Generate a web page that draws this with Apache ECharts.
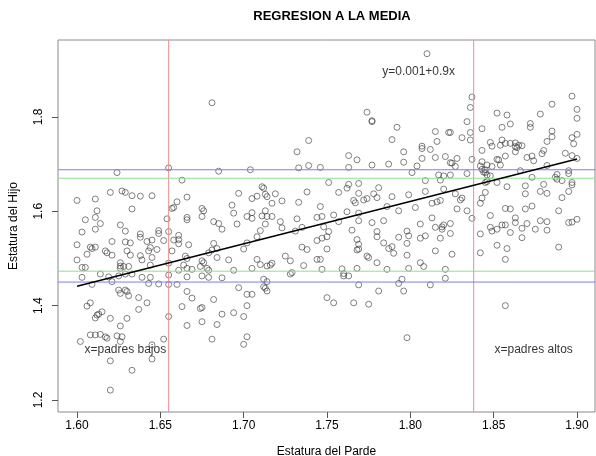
<!DOCTYPE html>
<html>
<head>
<meta charset="utf-8">
<script src="https://cdn.jsdelivr.net/npm/echarts@6/dist/echarts.min.js"></script>
<style>
  html, body { margin: 0; padding: 0; background: #fff; }
  #chart { width: 596px; height: 456px; }
</style>
</head>
<body>
<div id="chart"></div>
<script>
// estatura del padre (x) y del hijo (y)
const estaturas = [
  [1.624,1.682],[1.655,1.692],[1.663,1.666],[1.600,1.623],[1.611,1.626],[1.620,1.640],[1.627,1.643],[1.629,1.640],
  [1.633,1.633],[1.638,1.632],[1.645,1.633],[1.660,1.620],[1.666,1.630],[1.657,1.606],[1.658,1.608],[1.612,1.601],
  [1.633,1.605],[1.605,1.582],[1.611,1.587],[1.611,1.562],[1.614,1.574],[1.626,1.571],[1.654,1.584],[1.666,1.587],
  [1.666,1.582],[1.603,1.556],[1.629,1.558],[1.638,1.552],[1.638,1.545],[1.649,1.559],[1.649,1.553],[1.655,1.557],
  [1.661,1.549],[1.661,1.540],[1.658,1.539],[1.600,1.529],[1.608,1.524],[1.609,1.521],[1.611,1.524],[1.621,1.536],
  [1.629,1.535],[1.632,1.533],[1.642,1.536],[1.645,1.539],[1.652,1.538],[1.661,1.531],[1.667,1.529],[1.617,1.516],
  [1.618,1.512],[1.621,1.507],[1.630,1.516],[1.632,1.507],[1.644,1.523],[1.643,1.516],[1.648,1.519],[1.657,1.516],
  [1.600,1.497],[1.606,1.509],[1.638,1.506],[1.639,1.497],[1.645,1.502],[1.665,1.505],[1.666,1.500],[1.603,1.481],
  [1.605,1.481],[1.626,1.491],[1.626,1.484],[1.626,1.479],[1.628,1.483],[1.631,1.483],[1.644,1.486],[1.655,1.490],
  [1.664,1.486],[1.666,1.479],[1.661,1.475],[1.669,1.477],[1.614,1.467],[1.619,1.461],[1.603,1.460],[1.625,1.463],
  [1.629,1.467],[1.633,1.467],[1.639,1.460],[1.644,1.460],[1.655,1.465],[1.666,1.461],
  [1.732,1.726],[1.685,1.685],[1.704,1.688],[1.733,1.692],[1.739,1.697],[1.746,1.693],[1.711,1.652],[1.712,1.649],
  [1.697,1.638],[1.705,1.627],[1.708,1.632],[1.713,1.636],[1.714,1.631],[1.719,1.637],[1.717,1.617],[1.723,1.622],
  [1.738,1.641],[1.733,1.619],[1.693,1.613],[1.694,1.596],[1.675,1.606],[1.676,1.601],[1.675,1.589],[1.705,1.597],
  [1.702,1.589],[1.705,1.585],[1.713,1.601],[1.711,1.590],[1.714,1.589],[1.717,1.589],[1.682,1.578],[1.685,1.574],
  [1.687,1.562],[1.696,1.573],[1.713,1.573],[1.722,1.578],[1.723,1.565],[1.732,1.584],[1.735,1.566],[1.744,1.587],
  [1.747,1.589],[1.748,1.567],[1.710,1.559],[1.708,1.546],[1.702,1.533],[1.700,1.520],[1.731,1.558],[1.744,1.538],
  [1.747,1.543],[1.682,1.532],[1.681,1.518],[1.679,1.512],[1.684,1.521],[1.684,1.502],[1.735,1.524],[1.738,1.519],
  [1.691,1.497],[1.708,1.498],[1.710,1.487],[1.714,1.484],[1.717,1.490],[1.716,1.486],[1.725,1.505],[1.728,1.495],
  [1.736,1.485],[1.744,1.498],[1.675,1.495],[1.676,1.491],[1.674,1.483],[1.678,1.479],[1.679,1.475],[1.694,1.475],
  [1.705,1.479],[1.747,1.477],[1.675,1.463],[1.679,1.460],[1.687,1.459],[1.728,1.467],[1.729,1.470],[1.712,1.456],
  [1.763,1.718],[1.768,1.709],[1.796,1.726],[1.807,1.712],[1.815,1.714],[1.821,1.716],[1.763,1.693],[1.777,1.698],
  [1.787,1.700],[1.796,1.704],[1.804,1.696],[1.801,1.682],[1.817,1.677],[1.820,1.675],[1.751,1.661],[1.763,1.657],
  [1.762,1.649],[1.769,1.659],[1.781,1.650],[1.757,1.640],[1.769,1.638],[1.778,1.637],[1.789,1.631],[1.799,1.635],
  [1.809,1.642],[1.809,1.665],[1.818,1.666],[1.766,1.623],[1.767,1.618],[1.772,1.624],[1.774,1.627],[1.780,1.629],
  [1.813,1.617],[1.816,1.620],[1.818,1.623],[1.746,1.610],[1.786,1.610],[1.793,1.601],[1.803,1.608],[1.754,1.592],
  [1.762,1.599],[1.769,1.596],[1.757,1.578],[1.769,1.580],[1.777,1.576],[1.784,1.580],[1.813,1.586],[1.806,1.573],
  [1.815,1.566],[1.819,1.567],[1.819,1.562],[1.818,1.543],[1.751,1.557],[1.750,1.546],[1.765,1.560],[1.780,1.557],
  [1.780,1.546],[1.798,1.558],[1.799,1.548],[1.793,1.545],[1.806,1.543],[1.809,1.548],[1.768,1.540],[1.769,1.530],
  [1.768,1.518],[1.769,1.520],[1.784,1.533],[1.787,1.521],[1.789,1.525],[1.790,1.511],[1.798,1.532],[1.798,1.507],
  [1.750,1.520],[1.774,1.505],[1.775,1.502],[1.815,1.516],[1.746,1.498],[1.780,1.491],[1.806,1.491],[1.808,1.483],
  [1.759,1.478],[1.760,1.468],[1.760,1.463],[1.763,1.463],[1.768,1.479],[1.786,1.477],[1.799,1.479],[1.821,1.477],
  [1.843,1.729],[1.852,1.710],[1.853,1.709],[1.857,1.717],[1.863,1.726],[1.870,1.714],[1.873,1.717],[1.874,1.707],
  [1.879,1.722],[1.880,1.729],[1.893,1.723],[1.897,1.718],[1.900,1.712],[1.825,1.702],[1.827,1.695],[1.828,1.712],
  [1.824,1.703],[1.837,1.710],[1.842,1.696],[1.843,1.705],[1.846,1.698],[1.849,1.695],[1.854,1.698],[1.843,1.689],
  [1.845,1.688],[1.845,1.682],[1.846,1.677],[1.848,1.675],[1.844,1.683],[1.824,1.677],[1.834,1.680],[1.866,1.686],
  [1.882,1.697],[1.873,1.672],[1.887,1.672],[1.888,1.678],[1.888,1.668],[1.891,1.665],[1.895,1.686],[1.895,1.680],
  [1.845,1.661],[1.846,1.663],[1.852,1.661],[1.858,1.652],[1.869,1.654],[1.897,1.661],[1.897,1.656],[1.895,1.642],
  [1.891,1.629],[1.820,1.647],[1.827,1.637],[1.830,1.624],[1.831,1.628],[1.845,1.640],[1.843,1.628],[1.842,1.617],
  [1.869,1.637],[1.880,1.657],[1.878,1.642],[1.882,1.638],[1.828,1.605],[1.834,1.601],[1.857,1.606],[1.860,1.605],
  [1.869,1.605],[1.873,1.611],[1.889,1.601],[1.837,1.585],[1.848,1.591],[1.863,1.586],[1.863,1.576],[1.870,1.574],
  [1.878,1.580],[1.882,1.578],[1.895,1.576],[1.897,1.577],[1.900,1.583],[1.820,1.571],[1.824,1.574],[1.824,1.553],
  [1.848,1.566],[1.849,1.558],[1.852,1.562],[1.855,1.571],[1.857,1.571],[1.867,1.564],[1.875,1.562],[1.882,1.560],
  [1.842,1.552],[1.860,1.555],[1.867,1.544],[1.852,1.528],[1.858,1.521],[1.889,1.524],[1.825,1.509],[1.842,1.512],
  [1.857,1.498],
  [1.609,1.445],[1.621,1.451],[1.643,1.447],[1.649,1.446],[1.655,1.445],[1.660,1.445],[1.625,1.433],[1.629,1.433],
  [1.626,1.426],[1.630,1.430],[1.631,1.421],[1.637,1.417],[1.642,1.406],[1.637,1.392],[1.666,1.430],[1.669,1.416],
  [1.663,1.398],[1.674,1.394],[1.606,1.399],[1.608,1.406],[1.612,1.380],[1.611,1.374],[1.613,1.382],[1.615,1.387],
  [1.620,1.373],[1.630,1.373],[1.626,1.357],[1.655,1.377],[1.666,1.358],[1.602,1.324],[1.608,1.338],[1.611,1.338],
  [1.614,1.339],[1.617,1.334],[1.618,1.331],[1.624,1.336],[1.627,1.334],[1.626,1.324],[1.652,1.329],[1.645,1.317],
  [1.645,1.287],[1.620,1.283],[1.633,1.263],[1.620,1.221],
  [1.714,1.451],[1.712,1.440],[1.713,1.437],[1.714,1.431],[1.697,1.438],[1.702,1.424],[1.705,1.424],[1.682,1.413],
  [1.702,1.400],[1.675,1.396],[1.687,1.382],[1.694,1.385],[1.700,1.377],[1.675,1.366],[1.684,1.360],[1.681,1.329],
  [1.702,1.334],[1.700,1.318],
  [1.769,1.444],[1.781,1.431],[1.793,1.447],[1.795,1.456],[1.796,1.431],[1.812,1.444],[1.821,1.458],[1.750,1.417],
  [1.754,1.406],[1.766,1.406],[1.775,1.403],[1.798,1.332],[1.857,1.400],
  [1.681,1.830],[1.739,1.750],[1.810,1.934],[1.774,1.810],[1.777,1.790],[1.777,1.792],[1.792,1.778],[1.789,1.752],
  [1.815,1.769],[1.816,1.748],[1.807,1.738],[1.807,1.733],[1.812,1.731],[1.823,1.767],
  [1.837,1.842],[1.836,1.820],[1.834,1.790],[1.824,1.767],[1.831,1.756],[1.836,1.767],[1.836,1.751],[1.843,1.775],
  [1.852,1.808],[1.858,1.804],[1.855,1.778],[1.860,1.785],[1.872,1.786],[1.872,1.778],[1.878,1.806],[1.885,1.827],
  [1.897,1.844],[1.900,1.816],[1.900,1.797],[1.885,1.770],[1.885,1.758],[1.882,1.748],[1.897,1.756],[1.898,1.743],
  [1.900,1.763],[1.848,1.746],[1.849,1.738],[1.855,1.751],[1.857,1.744],[1.854,1.740],[1.860,1.744],[1.863,1.745],
  [1.863,1.737],[1.865,1.740],[1.867,1.739],[1.864,1.735]
];

const intercepto = 0.001;
const pendiente = 0.9;
const cortesPadre = [1.655, 1.838];     // rojo
const lineasAzules = [1.688, 1.450];
const lineasVerdes = [1.670, 1.473];

const ticksX = [1.60, 1.65, 1.70, 1.75, 1.80, 1.85, 1.90];
const ticksY = [1.2, 1.4, 1.6, 1.8];

const textos = ['y=0.001+0.9x', 'x=padres bajos', 'x=padres altos'];
const posTextos = [[1.805, 1.895], [1.629, 1.306], [1.874, 1.306]];

// limites de los ejes (caja de R, con 4% extra)
const xMin = 1.5886, xMax = 1.9108;
const yMin = 1.1746, yMax = 1.963;

const chart = echarts.init(document.getElementById('chart'));
const fuente = 'Liberation Sans';

const recta = [ticksX[0], ticksX[ticksX.length - 1]].map(x => [x, intercepto + pendiente * x]);

// una serie por cada linea de referencia (abline)
function linea(puntos, color) {
    return {
        type: 'line',
        data: puntos,
        symbol: 'none',
        silent: true,
        z: 3,
        lineStyle: { color: color, width: 1 }
    };
}

const refs = []
  .concat(cortesPadre.map(v => linea([[v, yMin], [v, yMax]], '#f28b8b')))
  .concat(lineasAzules.map(v => linea([[xMin, v], [xMax, v]], '#7b7bff')))
  .concat(lineasVerdes.map(v => linea([[xMin, v], [xMax, v]], '#8ee08e')));

const option = {
  animation: false,
  textStyle: { fontFamily: fuente },
  title: {
    text: 'REGRESION A LA MEDIA',
    left: 327,
    top: 5,
    textAlign: 'center',
    textStyle: { fontFamily: fuente, fontSize: 13, fontWeight: 'bold', color: '#000' }
  },
  grid: {
    left: 58, top: 40, right: 1, bottom: 44,
    outerBoundsMode: 'none',
    containLabel: false,
    show: true, borderColor: '#8a8a8a', borderWidth: 1
  },
  xAxis: {
    type: 'value',
    min: xMin, max: xMax,
    name: 'Estatura del Parde',
    nameLocation: 'middle',
    nameGap: 34,
    nameTextStyle: { fontSize: 12, color: '#000' },
    axisLine: { show: false },
    splitLine: { show: false },
    axisTick: { customValues: ticksX, length: 6, lineStyle: { color: '#555' } },
    axisLabel: { customValues: ticksX, margin: 8, fontSize: 12, color: '#000',
      formatter: v => v.toFixed(2) }
  },
  yAxis: {
    type: 'value',
    min: yMin, max: yMax,
    name: 'Estatura del Hijo',
    nameLocation: 'middle',
    nameGap: 38,
    nameTextStyle: { fontSize: 12, color: '#000' },
    axisLine: { show: false },
    splitLine: { show: false },
    axisTick: { customValues: ticksY, length: 6, lineStyle: { color: '#555' } },
    axisLabel: { customValues: ticksY, rotate: 90, margin: 13, fontSize: 12, color: '#000',
      formatter: v => v.toFixed(1) }
  },
  series: [
    {
      type: 'scatter',
      data: estaturas,
      symbol: 'circle',
      symbolSize: 6,
      itemStyle: { color: 'rgba(0,0,0,0)', borderColor: '#3a3a3a', borderWidth: 0.8 },
      silent: true
    },
    {
      type: 'line',
      data: recta,
      symbol: 'none',
      z: 4,
      lineStyle: { color: '#000', width: 1.5 },
      silent: true
    }
  ].concat(refs).concat([
    {
      type: 'scatter',
      symbolSize: 0,
      data: posTextos.map((p, i) => ({ value: p, name: textos[i] })),
      label: {
        show: true,
        position: 'inside',
        formatter: p => p.name,
        fontSize: 12,
        color: '#000'
      },
      silent: true
    }
  ])
};

chart.setOption(option);
</script>
</body>
</html>
